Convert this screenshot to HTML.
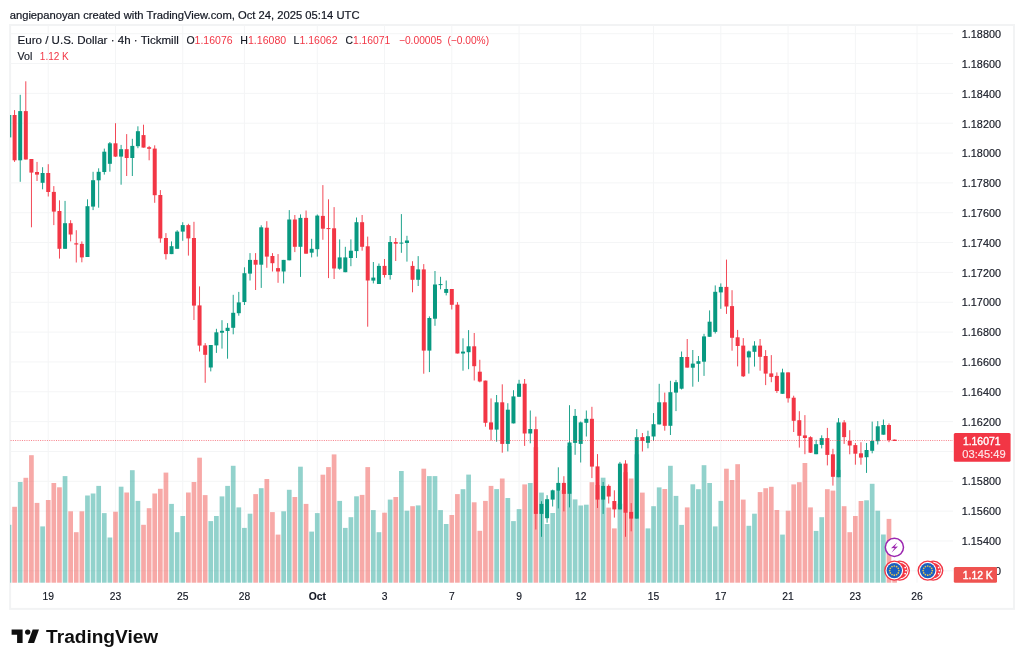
<!DOCTYPE html><html><head><meta charset="utf-8"><title>EURUSD 4h</title>
<style>html,body{margin:0;padding:0;background:#fff}body{width:1024px;height:665px;overflow:hidden}svg{display:block}text{font-family:"Liberation Sans",Arial,sans-serif}</style></head><body>
<svg width="1024" height="665" viewBox="0 0 1024 665">
<rect width="1024" height="665" fill="#fff"/>
<text x="9.7" y="18.5" font-size="11" fill="#131722" stroke="#131722" stroke-width="0.2" textLength="349.8" lengthAdjust="spacingAndGlyphs">angiepanoyan created with TradingView.com, Oct 24, 2025 05:14 UTC</text>
<rect x="10.1" y="25.0" width="1003.85" height="583.90" fill="#fff" stroke="#f2f3f4" stroke-width="2"/>
<g stroke="#f4f5f6" stroke-width="1">
<line x1="48.23" y1="25.6" x2="48.23" y2="582.7"/>
<line x1="115.49" y1="25.6" x2="115.49" y2="582.7"/>
<line x1="182.75" y1="25.6" x2="182.75" y2="582.7"/>
<line x1="244.41" y1="25.6" x2="244.41" y2="582.7"/>
<line x1="317.27" y1="25.6" x2="317.27" y2="582.7"/>
<line x1="384.53" y1="25.6" x2="384.53" y2="582.7"/>
<line x1="451.79" y1="25.6" x2="451.79" y2="582.7"/>
<line x1="519.05" y1="25.6" x2="519.05" y2="582.7"/>
<line x1="580.71" y1="25.6" x2="580.71" y2="582.7"/>
<line x1="653.57" y1="25.6" x2="653.57" y2="582.7"/>
<line x1="720.83" y1="25.6" x2="720.83" y2="582.7"/>
<line x1="788.09" y1="25.6" x2="788.09" y2="582.7"/>
<line x1="855.35" y1="25.6" x2="855.35" y2="582.7"/>
<line x1="917.01" y1="25.6" x2="917.01" y2="582.7"/>
<line x1="10.6" y1="33.70" x2="953.0" y2="33.70"/>
<line x1="10.6" y1="63.54" x2="953.0" y2="63.54"/>
<line x1="10.6" y1="93.38" x2="953.0" y2="93.38"/>
<line x1="10.6" y1="123.22" x2="953.0" y2="123.22"/>
<line x1="10.6" y1="153.06" x2="953.0" y2="153.06"/>
<line x1="10.6" y1="182.90" x2="953.0" y2="182.90"/>
<line x1="10.6" y1="212.74" x2="953.0" y2="212.74"/>
<line x1="10.6" y1="242.58" x2="953.0" y2="242.58"/>
<line x1="10.6" y1="272.42" x2="953.0" y2="272.42"/>
<line x1="10.6" y1="302.26" x2="953.0" y2="302.26"/>
<line x1="10.6" y1="332.10" x2="953.0" y2="332.10"/>
<line x1="10.6" y1="361.94" x2="953.0" y2="361.94"/>
<line x1="10.6" y1="391.78" x2="953.0" y2="391.78"/>
<line x1="10.6" y1="421.62" x2="953.0" y2="421.62"/>
<line x1="10.6" y1="451.46" x2="953.0" y2="451.46"/>
<line x1="10.6" y1="481.30" x2="953.0" y2="481.30"/>
<line x1="10.6" y1="511.14" x2="953.0" y2="511.14"/>
<line x1="10.6" y1="540.98" x2="953.0" y2="540.98"/>
<line x1="10.6" y1="570.82" x2="953.0" y2="570.82"/>
</g>
<g>
<rect x="10" y="524.8" width="1.34" height="57.90" fill="rgba(38,166,154,0.5)"/>
<rect x="12.25" y="506.8" width="4.7" height="75.9" fill="rgba(239,83,80,0.5)"/>
<rect x="17.85" y="482.0" width="4.7" height="100.7" fill="rgba(38,166,154,0.5)"/>
<rect x="23.46" y="477.8" width="4.7" height="104.9" fill="rgba(239,83,80,0.5)"/>
<rect x="29.06" y="455.2" width="4.7" height="127.5" fill="rgba(239,83,80,0.5)"/>
<rect x="34.67" y="502.9" width="4.7" height="79.8" fill="rgba(239,83,80,0.5)"/>
<rect x="40.27" y="526.4" width="4.7" height="56.3" fill="rgba(38,166,154,0.5)"/>
<rect x="45.88" y="500.0" width="4.7" height="82.7" fill="rgba(239,83,80,0.5)"/>
<rect x="51.48" y="483.0" width="4.7" height="99.7" fill="rgba(239,83,80,0.5)"/>
<rect x="57.09" y="487.3" width="4.7" height="95.4" fill="rgba(239,83,80,0.5)"/>
<rect x="62.70" y="476.1" width="4.7" height="106.6" fill="rgba(38,166,154,0.5)"/>
<rect x="68.30" y="511.3" width="4.7" height="71.4" fill="rgba(239,83,80,0.5)"/>
<rect x="73.91" y="532.2" width="4.7" height="50.5" fill="rgba(239,83,80,0.5)"/>
<rect x="79.51" y="511.3" width="4.7" height="71.4" fill="rgba(239,83,80,0.5)"/>
<rect x="85.12" y="495.5" width="4.7" height="87.2" fill="rgba(38,166,154,0.5)"/>
<rect x="90.72" y="493.5" width="4.7" height="89.2" fill="rgba(38,166,154,0.5)"/>
<rect x="96.33" y="485.9" width="4.7" height="96.8" fill="rgba(38,166,154,0.5)"/>
<rect x="101.93" y="513.1" width="4.7" height="69.6" fill="rgba(38,166,154,0.5)"/>
<rect x="107.54" y="537.5" width="4.7" height="45.2" fill="rgba(38,166,154,0.5)"/>
<rect x="113.14" y="511.7" width="4.7" height="71.0" fill="rgba(239,83,80,0.5)"/>
<rect x="118.75" y="486.7" width="4.7" height="96.0" fill="rgba(38,166,154,0.5)"/>
<rect x="124.35" y="492.5" width="4.7" height="90.2" fill="rgba(239,83,80,0.5)"/>
<rect x="129.96" y="470.2" width="4.7" height="112.5" fill="rgba(38,166,154,0.5)"/>
<rect x="135.56" y="500.9" width="4.7" height="81.8" fill="rgba(38,166,154,0.5)"/>
<rect x="141.17" y="524.8" width="4.7" height="57.9" fill="rgba(239,83,80,0.5)"/>
<rect x="146.77" y="508.2" width="4.7" height="74.5" fill="rgba(239,83,80,0.5)"/>
<rect x="152.38" y="493.5" width="4.7" height="89.2" fill="rgba(239,83,80,0.5)"/>
<rect x="157.98" y="488.8" width="4.7" height="93.9" fill="rgba(239,83,80,0.5)"/>
<rect x="163.59" y="472.6" width="4.7" height="110.1" fill="rgba(239,83,80,0.5)"/>
<rect x="169.19" y="503.9" width="4.7" height="78.8" fill="rgba(38,166,154,0.5)"/>
<rect x="174.80" y="532.2" width="4.7" height="50.5" fill="rgba(38,166,154,0.5)"/>
<rect x="180.40" y="516.0" width="4.7" height="66.7" fill="rgba(38,166,154,0.5)"/>
<rect x="186.01" y="492.5" width="4.7" height="90.2" fill="rgba(239,83,80,0.5)"/>
<rect x="191.61" y="482.0" width="4.7" height="100.7" fill="rgba(239,83,80,0.5)"/>
<rect x="197.22" y="457.7" width="4.7" height="125.0" fill="rgba(239,83,80,0.5)"/>
<rect x="202.82" y="495.1" width="4.7" height="87.6" fill="rgba(239,83,80,0.5)"/>
<rect x="208.43" y="521.1" width="4.7" height="61.6" fill="rgba(38,166,154,0.5)"/>
<rect x="214.03" y="516.0" width="4.7" height="66.7" fill="rgba(38,166,154,0.5)"/>
<rect x="219.64" y="496.4" width="4.7" height="86.3" fill="rgba(38,166,154,0.5)"/>
<rect x="225.24" y="485.9" width="4.7" height="96.8" fill="rgba(38,166,154,0.5)"/>
<rect x="230.85" y="465.8" width="4.7" height="116.9" fill="rgba(38,166,154,0.5)"/>
<rect x="236.45" y="507.4" width="4.7" height="75.3" fill="rgba(38,166,154,0.5)"/>
<rect x="242.06" y="527.9" width="4.7" height="54.8" fill="rgba(38,166,154,0.5)"/>
<rect x="247.66" y="513.7" width="4.7" height="69.0" fill="rgba(38,166,154,0.5)"/>
<rect x="253.27" y="494.1" width="4.7" height="88.6" fill="rgba(239,83,80,0.5)"/>
<rect x="258.87" y="488.2" width="4.7" height="94.5" fill="rgba(38,166,154,0.5)"/>
<rect x="264.48" y="479.0" width="4.7" height="103.7" fill="rgba(239,83,80,0.5)"/>
<rect x="270.08" y="512.1" width="4.7" height="70.6" fill="rgba(239,83,80,0.5)"/>
<rect x="275.69" y="534.6" width="4.7" height="48.1" fill="rgba(239,83,80,0.5)"/>
<rect x="281.29" y="511.3" width="4.7" height="71.4" fill="rgba(38,166,154,0.5)"/>
<rect x="286.90" y="489.8" width="4.7" height="92.9" fill="rgba(38,166,154,0.5)"/>
<rect x="292.50" y="497.0" width="4.7" height="85.7" fill="rgba(239,83,80,0.5)"/>
<rect x="298.11" y="466.7" width="4.7" height="116.0" fill="rgba(38,166,154,0.5)"/>
<rect x="303.71" y="503.9" width="4.7" height="78.8" fill="rgba(239,83,80,0.5)"/>
<rect x="309.31" y="531.6" width="4.7" height="51.1" fill="rgba(38,166,154,0.5)"/>
<rect x="314.92" y="513.1" width="4.7" height="69.6" fill="rgba(38,166,154,0.5)"/>
<rect x="320.53" y="474.7" width="4.7" height="108.0" fill="rgba(239,83,80,0.5)"/>
<rect x="326.13" y="467.1" width="4.7" height="115.6" fill="rgba(239,83,80,0.5)"/>
<rect x="331.74" y="454.4" width="4.7" height="128.3" fill="rgba(239,83,80,0.5)"/>
<rect x="337.34" y="500.9" width="4.7" height="81.8" fill="rgba(38,166,154,0.5)"/>
<rect x="342.95" y="527.9" width="4.7" height="54.8" fill="rgba(38,166,154,0.5)"/>
<rect x="348.55" y="517.2" width="4.7" height="65.5" fill="rgba(38,166,154,0.5)"/>
<rect x="354.16" y="496.3" width="4.7" height="86.4" fill="rgba(38,166,154,0.5)"/>
<rect x="359.76" y="494.9" width="4.7" height="87.8" fill="rgba(239,83,80,0.5)"/>
<rect x="365.37" y="467.1" width="4.7" height="115.6" fill="rgba(239,83,80,0.5)"/>
<rect x="370.97" y="510.1" width="4.7" height="72.6" fill="rgba(38,166,154,0.5)"/>
<rect x="376.58" y="532.2" width="4.7" height="50.5" fill="rgba(38,166,154,0.5)"/>
<rect x="382.18" y="512.7" width="4.7" height="70.0" fill="rgba(239,83,80,0.5)"/>
<rect x="387.79" y="499.6" width="4.7" height="83.1" fill="rgba(38,166,154,0.5)"/>
<rect x="393.39" y="497.0" width="4.7" height="85.7" fill="rgba(239,83,80,0.5)"/>
<rect x="399.00" y="471.0" width="4.7" height="111.7" fill="rgba(38,166,154,0.5)"/>
<rect x="404.60" y="510.7" width="4.7" height="72.0" fill="rgba(38,166,154,0.5)"/>
<rect x="410.21" y="506.2" width="4.7" height="76.5" fill="rgba(239,83,80,0.5)"/>
<rect x="415.81" y="505.4" width="4.7" height="77.3" fill="rgba(38,166,154,0.5)"/>
<rect x="421.42" y="468.7" width="4.7" height="114.0" fill="rgba(239,83,80,0.5)"/>
<rect x="427.02" y="476.1" width="4.7" height="106.6" fill="rgba(38,166,154,0.5)"/>
<rect x="432.63" y="476.1" width="4.7" height="106.6" fill="rgba(38,166,154,0.5)"/>
<rect x="438.23" y="510.1" width="4.7" height="72.6" fill="rgba(38,166,154,0.5)"/>
<rect x="443.84" y="524.0" width="4.7" height="58.7" fill="rgba(38,166,154,0.5)"/>
<rect x="449.44" y="515.0" width="4.7" height="67.7" fill="rgba(239,83,80,0.5)"/>
<rect x="455.05" y="494.1" width="4.7" height="88.6" fill="rgba(239,83,80,0.5)"/>
<rect x="460.65" y="489.2" width="4.7" height="93.5" fill="rgba(38,166,154,0.5)"/>
<rect x="466.26" y="474.6" width="4.7" height="108.1" fill="rgba(38,166,154,0.5)"/>
<rect x="471.86" y="502.3" width="4.7" height="80.4" fill="rgba(239,83,80,0.5)"/>
<rect x="477.47" y="530.8" width="4.7" height="51.9" fill="rgba(239,83,80,0.5)"/>
<rect x="483.07" y="500.9" width="4.7" height="81.8" fill="rgba(239,83,80,0.5)"/>
<rect x="488.68" y="485.9" width="4.7" height="96.8" fill="rgba(239,83,80,0.5)"/>
<rect x="494.28" y="489.1" width="4.7" height="93.6" fill="rgba(38,166,154,0.5)"/>
<rect x="499.89" y="478.5" width="4.7" height="104.2" fill="rgba(239,83,80,0.5)"/>
<rect x="505.49" y="498.0" width="4.7" height="84.7" fill="rgba(38,166,154,0.5)"/>
<rect x="511.10" y="521.1" width="4.7" height="61.6" fill="rgba(38,166,154,0.5)"/>
<rect x="516.70" y="509.1" width="4.7" height="73.6" fill="rgba(38,166,154,0.5)"/>
<rect x="522.31" y="484.4" width="4.7" height="98.3" fill="rgba(239,83,80,0.5)"/>
<rect x="527.91" y="483.0" width="4.7" height="99.7" fill="rgba(38,166,154,0.5)"/>
<rect x="533.51" y="447.2" width="4.7" height="135.5" fill="rgba(239,83,80,0.5)"/>
<rect x="539.12" y="492.6" width="4.7" height="90.1" fill="rgba(38,166,154,0.5)"/>
<rect x="544.73" y="524.0" width="4.7" height="58.7" fill="rgba(38,166,154,0.5)"/>
<rect x="550.33" y="513.0" width="4.7" height="69.7" fill="rgba(38,166,154,0.5)"/>
<rect x="555.94" y="491.0" width="4.7" height="91.7" fill="rgba(38,166,154,0.5)"/>
<rect x="561.54" y="490.0" width="4.7" height="92.7" fill="rgba(239,83,80,0.5)"/>
<rect x="567.15" y="446.0" width="4.7" height="136.7" fill="rgba(38,166,154,0.5)"/>
<rect x="572.75" y="499.4" width="4.7" height="83.3" fill="rgba(38,166,154,0.5)"/>
<rect x="578.36" y="505.5" width="4.7" height="77.2" fill="rgba(38,166,154,0.5)"/>
<rect x="583.96" y="504.7" width="4.7" height="78.0" fill="rgba(38,166,154,0.5)"/>
<rect x="589.57" y="482.2" width="4.7" height="100.5" fill="rgba(239,83,80,0.5)"/>
<rect x="595.17" y="485.0" width="4.7" height="97.7" fill="rgba(239,83,80,0.5)"/>
<rect x="600.78" y="477.7" width="4.7" height="105.0" fill="rgba(38,166,154,0.5)"/>
<rect x="606.38" y="507.6" width="4.7" height="75.1" fill="rgba(239,83,80,0.5)"/>
<rect x="611.99" y="528.4" width="4.7" height="54.3" fill="rgba(239,83,80,0.5)"/>
<rect x="617.59" y="503.7" width="4.7" height="79.0" fill="rgba(38,166,154,0.5)"/>
<rect x="623.20" y="472.2" width="4.7" height="110.5" fill="rgba(239,83,80,0.5)"/>
<rect x="628.80" y="478.5" width="4.7" height="104.2" fill="rgba(239,83,80,0.5)"/>
<rect x="634.41" y="454.3" width="4.7" height="128.4" fill="rgba(38,166,154,0.5)"/>
<rect x="640.01" y="492.6" width="4.7" height="90.1" fill="rgba(239,83,80,0.5)"/>
<rect x="645.62" y="528.4" width="4.7" height="54.3" fill="rgba(38,166,154,0.5)"/>
<rect x="651.22" y="506.2" width="4.7" height="76.5" fill="rgba(38,166,154,0.5)"/>
<rect x="656.83" y="487.4" width="4.7" height="95.3" fill="rgba(38,166,154,0.5)"/>
<rect x="662.43" y="489.0" width="4.7" height="93.7" fill="rgba(239,83,80,0.5)"/>
<rect x="668.04" y="465.8" width="4.7" height="116.9" fill="rgba(38,166,154,0.5)"/>
<rect x="673.64" y="495.9" width="4.7" height="86.8" fill="rgba(38,166,154,0.5)"/>
<rect x="679.25" y="524.9" width="4.7" height="57.8" fill="rgba(38,166,154,0.5)"/>
<rect x="684.85" y="507.4" width="4.7" height="75.3" fill="rgba(239,83,80,0.5)"/>
<rect x="690.46" y="484.3" width="4.7" height="98.4" fill="rgba(38,166,154,0.5)"/>
<rect x="696.06" y="489.2" width="4.7" height="93.5" fill="rgba(38,166,154,0.5)"/>
<rect x="701.67" y="465.2" width="4.7" height="117.5" fill="rgba(38,166,154,0.5)"/>
<rect x="707.27" y="483.0" width="4.7" height="99.7" fill="rgba(38,166,154,0.5)"/>
<rect x="712.88" y="526.4" width="4.7" height="56.3" fill="rgba(38,166,154,0.5)"/>
<rect x="718.48" y="500.9" width="4.7" height="81.8" fill="rgba(38,166,154,0.5)"/>
<rect x="724.09" y="468.7" width="4.7" height="114.0" fill="rgba(239,83,80,0.5)"/>
<rect x="729.69" y="480.0" width="4.7" height="102.7" fill="rgba(239,83,80,0.5)"/>
<rect x="735.30" y="464.2" width="4.7" height="118.5" fill="rgba(239,83,80,0.5)"/>
<rect x="740.90" y="499.6" width="4.7" height="83.1" fill="rgba(239,83,80,0.5)"/>
<rect x="746.51" y="525.8" width="4.7" height="56.9" fill="rgba(38,166,154,0.5)"/>
<rect x="752.11" y="513.7" width="4.7" height="69.0" fill="rgba(38,166,154,0.5)"/>
<rect x="757.72" y="492.1" width="4.7" height="90.6" fill="rgba(239,83,80,0.5)"/>
<rect x="763.32" y="488.2" width="4.7" height="94.5" fill="rgba(239,83,80,0.5)"/>
<rect x="768.93" y="486.8" width="4.7" height="95.9" fill="rgba(239,83,80,0.5)"/>
<rect x="774.53" y="510.0" width="4.7" height="72.7" fill="rgba(239,83,80,0.5)"/>
<rect x="780.14" y="534.6" width="4.7" height="48.1" fill="rgba(38,166,154,0.5)"/>
<rect x="785.74" y="510.7" width="4.7" height="72.0" fill="rgba(239,83,80,0.5)"/>
<rect x="791.35" y="484.4" width="4.7" height="98.3" fill="rgba(239,83,80,0.5)"/>
<rect x="796.95" y="482.2" width="4.7" height="100.5" fill="rgba(239,83,80,0.5)"/>
<rect x="802.56" y="463.0" width="4.7" height="119.7" fill="rgba(239,83,80,0.5)"/>
<rect x="808.16" y="507.4" width="4.7" height="75.3" fill="rgba(239,83,80,0.5)"/>
<rect x="813.77" y="530.9" width="4.7" height="51.8" fill="rgba(38,166,154,0.5)"/>
<rect x="819.37" y="517.2" width="4.7" height="65.5" fill="rgba(38,166,154,0.5)"/>
<rect x="824.98" y="489.2" width="4.7" height="93.5" fill="rgba(239,83,80,0.5)"/>
<rect x="830.58" y="490.6" width="4.7" height="92.1" fill="rgba(239,83,80,0.5)"/>
<rect x="836.19" y="469.9" width="4.7" height="112.8" fill="rgba(38,166,154,0.5)"/>
<rect x="841.79" y="506.2" width="4.7" height="76.5" fill="rgba(239,83,80,0.5)"/>
<rect x="847.40" y="532.2" width="4.7" height="50.5" fill="rgba(239,83,80,0.5)"/>
<rect x="853.00" y="516.0" width="4.7" height="66.7" fill="rgba(239,83,80,0.5)"/>
<rect x="858.61" y="501.0" width="4.7" height="81.7" fill="rgba(239,83,80,0.5)"/>
<rect x="864.21" y="500.3" width="4.7" height="82.4" fill="rgba(38,166,154,0.5)"/>
<rect x="869.82" y="483.8" width="4.7" height="98.9" fill="rgba(38,166,154,0.5)"/>
<rect x="875.42" y="510.7" width="4.7" height="72.0" fill="rgba(38,166,154,0.5)"/>
<rect x="881.03" y="534.5" width="4.7" height="48.2" fill="rgba(38,166,154,0.5)"/>
<rect x="886.63" y="518.9" width="4.7" height="63.8" fill="rgba(239,83,80,0.5)"/>
<rect x="892.24" y="575.0" width="4.7" height="7.7" fill="rgba(239,83,80,0.5)"/>
</g>
<g>
<rect x="10" y="115" width="1.3" height="22.4" fill="#089981" fill-opacity="0.9"/>
<rect x="14.15" y="110.1" width="0.9" height="51.8" fill="#f23645"/>
<rect x="12.60" y="115.0" width="4.0" height="45.3" fill="#f23645"/>
<rect x="19.75" y="94.8" width="0.9" height="87.0" fill="#089981"/>
<rect x="18.20" y="111.1" width="4.0" height="49.2" fill="#089981"/>
<rect x="25.36" y="81.3" width="0.9" height="78.2" fill="#f23645"/>
<rect x="23.81" y="111.1" width="4.0" height="48.4" fill="#f23645"/>
<rect x="30.96" y="159.0" width="0.9" height="68.3" fill="#f23645"/>
<rect x="29.41" y="159.0" width="4.0" height="13.6" fill="#f23645"/>
<rect x="36.57" y="161.9" width="0.9" height="19.1" fill="#f23645"/>
<rect x="35.02" y="172.0" width="4.0" height="2.6" fill="#f23645"/>
<rect x="42.17" y="167.2" width="0.9" height="22.1" fill="#089981"/>
<rect x="40.62" y="173.0" width="4.0" height="9.8" fill="#089981"/>
<rect x="47.78" y="164.2" width="0.9" height="32.3" fill="#f23645"/>
<rect x="46.23" y="173.0" width="4.0" height="19.0" fill="#f23645"/>
<rect x="53.38" y="186.1" width="0.9" height="39.0" fill="#f23645"/>
<rect x="51.84" y="191.9" width="4.0" height="19.7" fill="#f23645"/>
<rect x="58.99" y="200.3" width="0.9" height="58.3" fill="#f23645"/>
<rect x="57.44" y="211.0" width="4.0" height="37.8" fill="#f23645"/>
<rect x="64.59" y="200.9" width="0.9" height="47.9" fill="#089981"/>
<rect x="63.05" y="223.2" width="4.0" height="25.6" fill="#089981"/>
<rect x="70.20" y="220.2" width="0.9" height="21.2" fill="#f23645"/>
<rect x="68.65" y="223.2" width="4.0" height="11.3" fill="#f23645"/>
<rect x="75.80" y="230.2" width="0.9" height="32.3" fill="#f23645"/>
<rect x="74.25" y="243.3" width="4.0" height="1.2" fill="#f23645"/>
<rect x="81.41" y="241.4" width="0.9" height="20.9" fill="#f23645"/>
<rect x="79.86" y="243.9" width="4.0" height="13.5" fill="#f23645"/>
<rect x="87.02" y="199.3" width="0.9" height="57.7" fill="#089981"/>
<rect x="85.47" y="206.2" width="4.0" height="50.8" fill="#089981"/>
<rect x="92.62" y="171.8" width="0.9" height="38.3" fill="#089981"/>
<rect x="91.07" y="180.2" width="4.0" height="26.4" fill="#089981"/>
<rect x="98.22" y="168.3" width="0.9" height="39.4" fill="#089981"/>
<rect x="96.67" y="171.8" width="4.0" height="8.5" fill="#089981"/>
<rect x="103.83" y="148.6" width="0.9" height="26.0" fill="#089981"/>
<rect x="102.28" y="151.7" width="4.0" height="20.3" fill="#089981"/>
<rect x="109.44" y="142.0" width="0.9" height="29.7" fill="#089981"/>
<rect x="107.89" y="143.3" width="4.0" height="20.5" fill="#089981"/>
<rect x="115.04" y="123.2" width="0.9" height="33.8" fill="#f23645"/>
<rect x="113.49" y="143.3" width="4.0" height="13.3" fill="#f23645"/>
<rect x="120.64" y="144.9" width="0.9" height="39.8" fill="#089981"/>
<rect x="119.09" y="149.2" width="4.0" height="7.4" fill="#089981"/>
<rect x="126.25" y="134.1" width="0.9" height="41.9" fill="#f23645"/>
<rect x="124.70" y="149.2" width="4.0" height="8.8" fill="#f23645"/>
<rect x="131.86" y="138.8" width="0.9" height="37.2" fill="#089981"/>
<rect x="130.31" y="145.9" width="4.0" height="12.1" fill="#089981"/>
<rect x="137.46" y="126.3" width="0.9" height="21.9" fill="#089981"/>
<rect x="135.91" y="131.2" width="4.0" height="15.0" fill="#089981"/>
<rect x="143.07" y="124.7" width="0.9" height="22.9" fill="#f23645"/>
<rect x="141.52" y="135.1" width="4.0" height="12.5" fill="#f23645"/>
<rect x="148.67" y="145.9" width="0.9" height="14.4" fill="#f23645"/>
<rect x="147.12" y="147.2" width="4.0" height="1.6" fill="#f23645"/>
<rect x="154.28" y="145.3" width="0.9" height="57.5" fill="#f23645"/>
<rect x="152.72" y="148.6" width="4.0" height="46.6" fill="#f23645"/>
<rect x="159.88" y="190.1" width="0.9" height="52.6" fill="#f23645"/>
<rect x="158.33" y="195.0" width="4.0" height="43.4" fill="#f23645"/>
<rect x="165.49" y="233.1" width="0.9" height="26.4" fill="#f23645"/>
<rect x="163.94" y="238.0" width="4.0" height="16.1" fill="#f23645"/>
<rect x="171.09" y="241.4" width="0.9" height="12.7" fill="#089981"/>
<rect x="169.54" y="246.2" width="4.0" height="7.9" fill="#089981"/>
<rect x="176.70" y="230.2" width="0.9" height="18.6" fill="#089981"/>
<rect x="175.15" y="231.6" width="4.0" height="17.2" fill="#089981"/>
<rect x="182.30" y="222.2" width="0.9" height="18.6" fill="#089981"/>
<rect x="180.75" y="225.1" width="4.0" height="6.5" fill="#089981"/>
<rect x="187.91" y="223.8" width="0.9" height="31.8" fill="#f23645"/>
<rect x="186.36" y="225.1" width="4.0" height="13.3" fill="#f23645"/>
<rect x="193.51" y="221.8" width="0.9" height="98.2" fill="#f23645"/>
<rect x="191.96" y="238.0" width="4.0" height="67.6" fill="#f23645"/>
<rect x="199.12" y="286.4" width="0.9" height="65.1" fill="#f23645"/>
<rect x="197.56" y="305.4" width="4.0" height="40.2" fill="#f23645"/>
<rect x="204.72" y="343.1" width="0.9" height="39.7" fill="#f23645"/>
<rect x="203.17" y="345.4" width="4.0" height="9.4" fill="#f23645"/>
<rect x="210.33" y="345.0" width="0.9" height="26.4" fill="#089981"/>
<rect x="208.78" y="345.0" width="4.0" height="22.5" fill="#089981"/>
<rect x="215.93" y="328.8" width="0.9" height="24.1" fill="#089981"/>
<rect x="214.38" y="332.3" width="4.0" height="13.1" fill="#089981"/>
<rect x="221.54" y="320.2" width="0.9" height="28.4" fill="#089981"/>
<rect x="219.99" y="330.8" width="4.0" height="1.9" fill="#089981"/>
<rect x="227.14" y="323.1" width="0.9" height="35.6" fill="#089981"/>
<rect x="225.59" y="327.8" width="4.0" height="3.2" fill="#089981"/>
<rect x="232.75" y="294.8" width="0.9" height="39.5" fill="#089981"/>
<rect x="231.20" y="312.8" width="4.0" height="15.0" fill="#089981"/>
<rect x="238.35" y="291.9" width="0.9" height="23.8" fill="#089981"/>
<rect x="236.80" y="302.4" width="4.0" height="10.8" fill="#089981"/>
<rect x="243.96" y="267.3" width="0.9" height="37.7" fill="#089981"/>
<rect x="242.41" y="273.2" width="4.0" height="28.8" fill="#089981"/>
<rect x="249.56" y="253.1" width="0.9" height="27.4" fill="#089981"/>
<rect x="248.01" y="259.9" width="4.0" height="13.7" fill="#089981"/>
<rect x="255.17" y="253.1" width="0.9" height="36.9" fill="#f23645"/>
<rect x="253.62" y="259.9" width="4.0" height="4.8" fill="#f23645"/>
<rect x="260.77" y="225.3" width="0.9" height="62.6" fill="#089981"/>
<rect x="259.22" y="227.3" width="4.0" height="37.4" fill="#089981"/>
<rect x="266.38" y="221.2" width="0.9" height="46.6" fill="#f23645"/>
<rect x="264.83" y="227.7" width="4.0" height="28.9" fill="#f23645"/>
<rect x="271.98" y="253.1" width="0.9" height="18.4" fill="#f23645"/>
<rect x="270.43" y="256.0" width="4.0" height="7.2" fill="#f23645"/>
<rect x="277.59" y="254.1" width="0.9" height="28.7" fill="#f23645"/>
<rect x="276.04" y="268.1" width="4.0" height="3.4" fill="#f23645"/>
<rect x="283.19" y="259.9" width="0.9" height="23.5" fill="#089981"/>
<rect x="281.64" y="259.9" width="4.0" height="11.6" fill="#089981"/>
<rect x="288.80" y="210.1" width="0.9" height="50.2" fill="#089981"/>
<rect x="287.25" y="219.5" width="4.0" height="40.8" fill="#089981"/>
<rect x="294.40" y="215.0" width="0.9" height="37.1" fill="#f23645"/>
<rect x="292.85" y="219.5" width="4.0" height="27.3" fill="#f23645"/>
<rect x="300.01" y="214.4" width="0.9" height="62.5" fill="#089981"/>
<rect x="298.46" y="217.9" width="4.0" height="28.9" fill="#089981"/>
<rect x="305.61" y="210.5" width="0.9" height="43.2" fill="#f23645"/>
<rect x="304.06" y="217.9" width="4.0" height="35.8" fill="#f23645"/>
<rect x="311.22" y="238.8" width="0.9" height="18.6" fill="#089981"/>
<rect x="309.67" y="248.8" width="4.0" height="3.9" fill="#089981"/>
<rect x="316.82" y="214.5" width="0.9" height="42.1" fill="#089981"/>
<rect x="315.27" y="215.6" width="4.0" height="33.6" fill="#089981"/>
<rect x="322.43" y="185.1" width="0.9" height="54.7" fill="#f23645"/>
<rect x="320.88" y="215.9" width="4.0" height="12.8" fill="#f23645"/>
<rect x="328.03" y="199.3" width="0.9" height="78.8" fill="#f23645"/>
<rect x="326.48" y="228.1" width="4.0" height="1.0" fill="#f23645"/>
<rect x="333.64" y="207.1" width="0.9" height="71.9" fill="#f23645"/>
<rect x="332.09" y="228.3" width="4.0" height="40.2" fill="#f23645"/>
<rect x="339.24" y="239.4" width="0.9" height="30.3" fill="#089981"/>
<rect x="337.69" y="257.4" width="4.0" height="11.3" fill="#089981"/>
<rect x="344.85" y="246.8" width="0.9" height="25.4" fill="#089981"/>
<rect x="343.30" y="257.4" width="4.0" height="14.8" fill="#089981"/>
<rect x="350.45" y="239.4" width="0.9" height="26.8" fill="#089981"/>
<rect x="348.90" y="250.7" width="4.0" height="7.3" fill="#089981"/>
<rect x="356.06" y="217.5" width="0.9" height="40.5" fill="#089981"/>
<rect x="354.51" y="222.2" width="4.0" height="28.9" fill="#089981"/>
<rect x="361.66" y="215.0" width="0.9" height="35.7" fill="#f23645"/>
<rect x="360.11" y="222.2" width="4.0" height="24.6" fill="#f23645"/>
<rect x="367.27" y="236.6" width="0.9" height="90.1" fill="#f23645"/>
<rect x="365.72" y="246.3" width="4.0" height="34.2" fill="#f23645"/>
<rect x="372.87" y="262.0" width="0.9" height="21.4" fill="#089981"/>
<rect x="371.32" y="277.6" width="4.0" height="3.0" fill="#089981"/>
<rect x="378.48" y="263.5" width="0.9" height="20.5" fill="#089981"/>
<rect x="376.93" y="265.9" width="4.0" height="18.1" fill="#089981"/>
<rect x="384.08" y="259.0" width="0.9" height="18.5" fill="#f23645"/>
<rect x="382.53" y="265.9" width="4.0" height="9.1" fill="#f23645"/>
<rect x="389.69" y="236.0" width="0.9" height="43.6" fill="#089981"/>
<rect x="388.14" y="242.0" width="4.0" height="33.0" fill="#089981"/>
<rect x="395.29" y="238.0" width="0.9" height="23.0" fill="#f23645"/>
<rect x="393.74" y="242.0" width="4.0" height="1.7" fill="#f23645"/>
<rect x="400.90" y="214.1" width="0.9" height="38.7" fill="#089981"/>
<rect x="399.35" y="242.6" width="4.0" height="1.0" fill="#089981"/>
<rect x="406.50" y="235.8" width="0.9" height="25.8" fill="#089981"/>
<rect x="404.95" y="240.5" width="4.0" height="2.5" fill="#089981"/>
<rect x="412.11" y="261.2" width="0.9" height="31.1" fill="#f23645"/>
<rect x="410.56" y="265.9" width="4.0" height="13.9" fill="#f23645"/>
<rect x="417.71" y="256.1" width="0.9" height="29.9" fill="#089981"/>
<rect x="416.16" y="269.4" width="4.0" height="10.4" fill="#089981"/>
<rect x="423.32" y="264.1" width="0.9" height="109.6" fill="#f23645"/>
<rect x="421.77" y="269.4" width="4.0" height="81.2" fill="#f23645"/>
<rect x="428.92" y="316.4" width="0.9" height="55.7" fill="#089981"/>
<rect x="427.37" y="318.0" width="4.0" height="32.6" fill="#089981"/>
<rect x="434.53" y="271.0" width="0.9" height="54.8" fill="#089981"/>
<rect x="432.98" y="284.5" width="4.0" height="34.2" fill="#089981"/>
<rect x="440.13" y="276.8" width="0.9" height="12.5" fill="#089981"/>
<rect x="438.58" y="284.1" width="4.0" height="1.0" fill="#089981"/>
<rect x="445.74" y="280.5" width="0.9" height="14.9" fill="#089981"/>
<rect x="444.19" y="289.0" width="4.0" height="3.9" fill="#089981"/>
<rect x="451.34" y="289.0" width="0.9" height="20.5" fill="#f23645"/>
<rect x="449.79" y="289.0" width="4.0" height="15.8" fill="#f23645"/>
<rect x="456.95" y="302.1" width="0.9" height="51.4" fill="#f23645"/>
<rect x="455.40" y="304.7" width="4.0" height="48.8" fill="#f23645"/>
<rect x="462.55" y="338.3" width="0.9" height="32.4" fill="#089981"/>
<rect x="461.00" y="351.6" width="4.0" height="1.9" fill="#089981"/>
<rect x="468.16" y="330.1" width="0.9" height="39.1" fill="#089981"/>
<rect x="466.61" y="346.3" width="4.0" height="5.9" fill="#089981"/>
<rect x="473.76" y="333.0" width="0.9" height="47.5" fill="#f23645"/>
<rect x="472.21" y="346.3" width="4.0" height="19.9" fill="#f23645"/>
<rect x="479.37" y="359.8" width="0.9" height="22.5" fill="#f23645"/>
<rect x="477.82" y="371.7" width="4.0" height="9.8" fill="#f23645"/>
<rect x="484.97" y="380.6" width="0.9" height="46.1" fill="#f23645"/>
<rect x="483.42" y="380.6" width="4.0" height="42.2" fill="#f23645"/>
<rect x="490.58" y="398.4" width="0.9" height="42.0" fill="#f23645"/>
<rect x="489.03" y="422.4" width="4.0" height="7.2" fill="#f23645"/>
<rect x="496.18" y="395.0" width="0.9" height="46.7" fill="#089981"/>
<rect x="494.63" y="402.3" width="4.0" height="27.3" fill="#089981"/>
<rect x="501.79" y="384.3" width="0.9" height="68.4" fill="#f23645"/>
<rect x="500.24" y="402.3" width="4.0" height="41.6" fill="#f23645"/>
<rect x="507.39" y="403.2" width="0.9" height="48.2" fill="#089981"/>
<rect x="505.84" y="409.7" width="4.0" height="34.2" fill="#089981"/>
<rect x="513.00" y="390.2" width="0.9" height="33.2" fill="#089981"/>
<rect x="511.45" y="396.4" width="4.0" height="27.0" fill="#089981"/>
<rect x="518.60" y="379.8" width="0.9" height="17.0" fill="#089981"/>
<rect x="517.05" y="383.7" width="4.0" height="13.1" fill="#089981"/>
<rect x="524.21" y="379.0" width="0.9" height="66.9" fill="#f23645"/>
<rect x="522.66" y="383.7" width="4.0" height="49.8" fill="#f23645"/>
<rect x="529.81" y="410.5" width="0.9" height="32.8" fill="#089981"/>
<rect x="528.26" y="429.0" width="4.0" height="4.5" fill="#089981"/>
<rect x="535.41" y="416.6" width="0.9" height="112.9" fill="#f23645"/>
<rect x="533.87" y="429.2" width="4.0" height="84.7" fill="#f23645"/>
<rect x="541.02" y="501.2" width="0.9" height="35.6" fill="#089981"/>
<rect x="539.47" y="503.9" width="4.0" height="10.0" fill="#089981"/>
<rect x="546.62" y="495.2" width="0.9" height="27.5" fill="#089981"/>
<rect x="545.08" y="499.2" width="4.0" height="19.0" fill="#089981"/>
<rect x="552.23" y="489.6" width="0.9" height="16.9" fill="#089981"/>
<rect x="550.68" y="490.3" width="4.0" height="9.3" fill="#089981"/>
<rect x="557.84" y="467.3" width="0.9" height="41.1" fill="#089981"/>
<rect x="556.29" y="482.9" width="4.0" height="7.9" fill="#089981"/>
<rect x="563.44" y="476.2" width="0.9" height="35.2" fill="#f23645"/>
<rect x="561.89" y="482.9" width="4.0" height="11.0" fill="#f23645"/>
<rect x="569.05" y="405.2" width="0.9" height="102.2" fill="#089981"/>
<rect x="567.50" y="442.5" width="4.0" height="51.3" fill="#089981"/>
<rect x="574.65" y="409.0" width="0.9" height="45.8" fill="#089981"/>
<rect x="573.10" y="415.9" width="4.0" height="27.0" fill="#089981"/>
<rect x="580.25" y="421.5" width="0.9" height="41.0" fill="#089981"/>
<rect x="578.71" y="422.4" width="4.0" height="21.5" fill="#089981"/>
<rect x="585.86" y="410.5" width="0.9" height="26.0" fill="#089981"/>
<rect x="584.31" y="418.8" width="4.0" height="4.0" fill="#089981"/>
<rect x="591.47" y="406.8" width="0.9" height="71.3" fill="#f23645"/>
<rect x="589.92" y="418.8" width="4.0" height="47.8" fill="#f23645"/>
<rect x="597.07" y="454.1" width="0.9" height="53.9" fill="#f23645"/>
<rect x="595.52" y="466.4" width="4.0" height="33.2" fill="#f23645"/>
<rect x="602.68" y="482.0" width="0.9" height="31.9" fill="#089981"/>
<rect x="601.13" y="485.9" width="4.0" height="13.7" fill="#089981"/>
<rect x="608.28" y="484.5" width="0.9" height="19.0" fill="#f23645"/>
<rect x="606.73" y="485.9" width="4.0" height="10.6" fill="#f23645"/>
<rect x="613.88" y="490.3" width="0.9" height="27.3" fill="#f23645"/>
<rect x="612.34" y="501.0" width="4.0" height="8.4" fill="#f23645"/>
<rect x="619.49" y="461.9" width="0.9" height="47.5" fill="#089981"/>
<rect x="617.94" y="463.6" width="4.0" height="45.8" fill="#089981"/>
<rect x="625.10" y="460.2" width="0.9" height="76.6" fill="#f23645"/>
<rect x="623.55" y="463.6" width="4.0" height="49.1" fill="#f23645"/>
<rect x="630.70" y="503.1" width="0.9" height="28.2" fill="#f23645"/>
<rect x="629.15" y="511.9" width="4.0" height="6.7" fill="#f23645"/>
<rect x="636.31" y="429.1" width="0.9" height="89.5" fill="#089981"/>
<rect x="634.76" y="437.2" width="4.0" height="81.4" fill="#089981"/>
<rect x="641.91" y="433.0" width="0.9" height="18.5" fill="#f23645"/>
<rect x="640.36" y="437.1" width="4.0" height="3.8" fill="#f23645"/>
<rect x="647.51" y="430.7" width="0.9" height="17.6" fill="#089981"/>
<rect x="645.97" y="436.2" width="4.0" height="6.6" fill="#089981"/>
<rect x="653.12" y="413.1" width="0.9" height="27.9" fill="#089981"/>
<rect x="651.57" y="424.2" width="4.0" height="12.3" fill="#089981"/>
<rect x="658.73" y="383.8" width="0.9" height="40.6" fill="#089981"/>
<rect x="657.18" y="402.3" width="4.0" height="22.1" fill="#089981"/>
<rect x="664.33" y="392.6" width="0.9" height="38.1" fill="#f23645"/>
<rect x="662.78" y="402.3" width="4.0" height="23.5" fill="#f23645"/>
<rect x="669.94" y="380.8" width="0.9" height="54.2" fill="#089981"/>
<rect x="668.39" y="392.2" width="4.0" height="33.6" fill="#089981"/>
<rect x="675.54" y="379.9" width="0.9" height="31.2" fill="#089981"/>
<rect x="673.99" y="382.2" width="4.0" height="10.4" fill="#089981"/>
<rect x="681.14" y="351.5" width="0.9" height="38.0" fill="#089981"/>
<rect x="679.60" y="357.0" width="4.0" height="31.7" fill="#089981"/>
<rect x="686.75" y="339.0" width="0.9" height="28.6" fill="#f23645"/>
<rect x="685.20" y="357.0" width="4.0" height="10.6" fill="#f23645"/>
<rect x="692.36" y="350.0" width="0.9" height="36.7" fill="#089981"/>
<rect x="690.81" y="363.6" width="4.0" height="4.1" fill="#089981"/>
<rect x="697.96" y="356.0" width="0.9" height="25.8" fill="#089981"/>
<rect x="696.41" y="361.2" width="4.0" height="2.6" fill="#089981"/>
<rect x="703.57" y="333.8" width="0.9" height="42.1" fill="#089981"/>
<rect x="702.02" y="336.4" width="4.0" height="25.3" fill="#089981"/>
<rect x="709.17" y="310.4" width="0.9" height="26.4" fill="#089981"/>
<rect x="707.62" y="321.7" width="4.0" height="15.1" fill="#089981"/>
<rect x="714.77" y="285.4" width="0.9" height="48.1" fill="#089981"/>
<rect x="713.23" y="291.8" width="4.0" height="40.1" fill="#089981"/>
<rect x="720.38" y="283.4" width="0.9" height="25.4" fill="#089981"/>
<rect x="718.83" y="286.9" width="4.0" height="5.5" fill="#089981"/>
<rect x="725.99" y="259.6" width="0.9" height="54.3" fill="#f23645"/>
<rect x="724.44" y="286.9" width="4.0" height="19.6" fill="#f23645"/>
<rect x="731.59" y="290.2" width="0.9" height="60.5" fill="#f23645"/>
<rect x="730.04" y="306.1" width="4.0" height="31.7" fill="#f23645"/>
<rect x="737.20" y="329.9" width="0.9" height="36.5" fill="#f23645"/>
<rect x="735.65" y="337.3" width="4.0" height="8.7" fill="#f23645"/>
<rect x="742.80" y="338.1" width="0.9" height="38.9" fill="#f23645"/>
<rect x="741.25" y="345.6" width="4.0" height="30.7" fill="#f23645"/>
<rect x="748.41" y="350.5" width="0.9" height="23.1" fill="#089981"/>
<rect x="746.86" y="351.4" width="4.0" height="6.0" fill="#089981"/>
<rect x="754.01" y="341.2" width="0.9" height="25.4" fill="#089981"/>
<rect x="752.46" y="345.6" width="4.0" height="6.2" fill="#089981"/>
<rect x="759.62" y="339.0" width="0.9" height="31.7" fill="#f23645"/>
<rect x="758.07" y="345.6" width="4.0" height="11.2" fill="#f23645"/>
<rect x="765.22" y="350.1" width="0.9" height="35.0" fill="#f23645"/>
<rect x="763.67" y="356.0" width="4.0" height="17.6" fill="#f23645"/>
<rect x="770.83" y="355.1" width="0.9" height="27.1" fill="#f23645"/>
<rect x="769.28" y="373.4" width="4.0" height="3.5" fill="#f23645"/>
<rect x="776.43" y="372.4" width="0.9" height="20.5" fill="#f23645"/>
<rect x="774.88" y="375.9" width="4.0" height="15.1" fill="#f23645"/>
<rect x="782.04" y="368.7" width="0.9" height="25.1" fill="#089981"/>
<rect x="780.49" y="372.4" width="4.0" height="21.4" fill="#089981"/>
<rect x="787.64" y="372.4" width="0.9" height="30.2" fill="#f23645"/>
<rect x="786.09" y="372.4" width="4.0" height="25.9" fill="#f23645"/>
<rect x="793.25" y="395.7" width="0.9" height="36.3" fill="#f23645"/>
<rect x="791.70" y="397.7" width="4.0" height="23.1" fill="#f23645"/>
<rect x="798.85" y="411.2" width="0.9" height="36.4" fill="#f23645"/>
<rect x="797.30" y="420.2" width="4.0" height="15.6" fill="#f23645"/>
<rect x="804.46" y="415.1" width="0.9" height="39.1" fill="#f23645"/>
<rect x="802.91" y="435.4" width="4.0" height="2.6" fill="#f23645"/>
<rect x="810.06" y="436.3" width="0.9" height="16.7" fill="#f23645"/>
<rect x="808.51" y="437.2" width="4.0" height="15.5" fill="#f23645"/>
<rect x="815.67" y="439.8" width="0.9" height="14.4" fill="#089981"/>
<rect x="814.12" y="444.2" width="4.0" height="10.0" fill="#089981"/>
<rect x="821.27" y="435.3" width="0.9" height="13.1" fill="#089981"/>
<rect x="819.72" y="438.1" width="4.0" height="6.8" fill="#089981"/>
<rect x="826.88" y="427.9" width="0.9" height="37.5" fill="#f23645"/>
<rect x="825.33" y="438.1" width="4.0" height="16.8" fill="#f23645"/>
<rect x="832.48" y="448.8" width="0.9" height="36.8" fill="#f23645"/>
<rect x="830.93" y="454.3" width="4.0" height="22.5" fill="#f23645"/>
<rect x="838.09" y="418.1" width="0.9" height="59.1" fill="#089981"/>
<rect x="836.54" y="422.4" width="4.0" height="54.8" fill="#089981"/>
<rect x="843.69" y="420.1" width="0.9" height="23.8" fill="#f23645"/>
<rect x="842.14" y="422.4" width="4.0" height="14.7" fill="#f23645"/>
<rect x="849.30" y="430.2" width="0.9" height="24.1" fill="#f23645"/>
<rect x="847.75" y="441.0" width="4.0" height="4.5" fill="#f23645"/>
<rect x="854.90" y="443.0" width="0.9" height="21.7" fill="#f23645"/>
<rect x="853.35" y="445.1" width="4.0" height="8.6" fill="#f23645"/>
<rect x="860.50" y="442.2" width="0.9" height="22.5" fill="#f23645"/>
<rect x="858.96" y="453.3" width="4.0" height="4.3" fill="#f23645"/>
<rect x="866.11" y="443.0" width="0.9" height="29.9" fill="#089981"/>
<rect x="864.56" y="450.0" width="4.0" height="7.2" fill="#089981"/>
<rect x="871.72" y="421.6" width="0.9" height="31.7" fill="#089981"/>
<rect x="870.17" y="441.0" width="4.0" height="9.8" fill="#089981"/>
<rect x="877.32" y="421.1" width="0.9" height="23.4" fill="#089981"/>
<rect x="875.77" y="426.3" width="4.0" height="14.9" fill="#089981"/>
<rect x="882.93" y="419.5" width="0.9" height="15.2" fill="#089981"/>
<rect x="881.38" y="425.0" width="4.0" height="9.7" fill="#089981"/>
<rect x="888.53" y="423.4" width="0.9" height="18.8" fill="#f23645"/>
<rect x="886.98" y="425.0" width="4.0" height="15.2" fill="#f23645"/>
<rect x="894.13" y="439.6" width="0.9" height="1.4" fill="#f23645"/>
<rect x="892.59" y="439.6" width="4.0" height="1.4" fill="#f23645"/>
</g>
<line x1="10.6" y1="440.5" x2="953.0" y2="440.5" stroke="#f23645" stroke-width="0.9" stroke-opacity="0.7" stroke-dasharray="1 1.27"/>
<g font-size="10.3" fill="#131722" stroke="#131722" stroke-width="0.15">
<text x="961.8" y="38.15" textLength="39.2" lengthAdjust="spacingAndGlyphs">1.18800</text>
<text x="961.8" y="67.95" textLength="39.2" lengthAdjust="spacingAndGlyphs">1.18600</text>
<text x="961.8" y="97.76" textLength="39.2" lengthAdjust="spacingAndGlyphs">1.18400</text>
<text x="961.8" y="127.56" textLength="39.2" lengthAdjust="spacingAndGlyphs">1.18200</text>
<text x="961.8" y="157.37" textLength="39.2" lengthAdjust="spacingAndGlyphs">1.18000</text>
<text x="961.8" y="187.18" textLength="39.2" lengthAdjust="spacingAndGlyphs">1.17800</text>
<text x="961.8" y="216.98" textLength="39.2" lengthAdjust="spacingAndGlyphs">1.17600</text>
<text x="961.8" y="246.78" textLength="39.2" lengthAdjust="spacingAndGlyphs">1.17400</text>
<text x="961.8" y="276.59" textLength="39.2" lengthAdjust="spacingAndGlyphs">1.17200</text>
<text x="961.8" y="306.39" textLength="39.2" lengthAdjust="spacingAndGlyphs">1.17000</text>
<text x="961.8" y="336.20" textLength="39.2" lengthAdjust="spacingAndGlyphs">1.16800</text>
<text x="961.8" y="366.00" textLength="39.2" lengthAdjust="spacingAndGlyphs">1.16600</text>
<text x="961.8" y="395.81" textLength="39.2" lengthAdjust="spacingAndGlyphs">1.16400</text>
<text x="961.8" y="425.61" textLength="39.2" lengthAdjust="spacingAndGlyphs">1.16200</text>
<text x="961.8" y="455.42" textLength="39.2" lengthAdjust="spacingAndGlyphs">1.16000</text>
<text x="961.8" y="485.22" textLength="39.2" lengthAdjust="spacingAndGlyphs">1.15800</text>
<text x="961.8" y="515.03" textLength="39.2" lengthAdjust="spacingAndGlyphs">1.15600</text>
<text x="961.8" y="544.84" textLength="39.2" lengthAdjust="spacingAndGlyphs">1.15400</text>
<text x="961.8" y="574.64" textLength="39.2" lengthAdjust="spacingAndGlyphs">1.15200</text>
<text x="48.23" y="599.8" text-anchor="middle">19</text>
<text x="115.49" y="599.8" text-anchor="middle">23</text>
<text x="182.75" y="599.8" text-anchor="middle">25</text>
<text x="244.41" y="599.8" text-anchor="middle">28</text>
<text x="317.27" y="599.8" text-anchor="middle" font-weight="bold">Oct</text>
<text x="384.53" y="599.8" text-anchor="middle">3</text>
<text x="451.79" y="599.8" text-anchor="middle">7</text>
<text x="519.05" y="599.8" text-anchor="middle">9</text>
<text x="580.71" y="599.8" text-anchor="middle">12</text>
<text x="653.57" y="599.8" text-anchor="middle">15</text>
<text x="720.83" y="599.8" text-anchor="middle">17</text>
<text x="788.09" y="599.8" text-anchor="middle">21</text>
<text x="855.35" y="599.8" text-anchor="middle">23</text>
<text x="917.01" y="599.8" text-anchor="middle">26</text>
</g>
<rect x="953.8" y="432.9" width="56.8" height="28.9" rx="1.5" fill="#f23645"/>
<text x="962.9" y="444.6" font-size="10.3" fill="#fff" textLength="37.6" lengthAdjust="spacingAndGlyphs" stroke="#fff" stroke-width="0.35">1.16071</text>
<text x="962.3" y="457.9" font-size="10.3" fill="#fff" fill-opacity="0.85" stroke="#fff" stroke-opacity="0.85" stroke-width="0.15" textLength="43.3" lengthAdjust="spacingAndGlyphs">03:45:49</text>
<rect x="953.8" y="567.1" width="43.2" height="15.7" rx="1.5" fill="#ef5350"/>
<text x="962.8" y="578.9" font-size="10.3" fill="#fff" textLength="30" lengthAdjust="spacingAndGlyphs" stroke="#fff" stroke-width="0.4">1.12 K</text>
<g font-size="10.5">
<text x="17.5" y="43.7" fill="#131722" stroke="#131722" stroke-width="0.15" textLength="161.3" lengthAdjust="spacingAndGlyphs">Euro / U.S. Dollar · 4h · Tickmill</text>
<text x="186.4" y="43.7" textLength="46.2" lengthAdjust="spacingAndGlyphs"><tspan fill="#131722" stroke="#131722" stroke-width="0.15">O</tspan><tspan fill="#f23645">1.16076</tspan></text>
<text x="240.3" y="43.7" textLength="45.9" lengthAdjust="spacingAndGlyphs"><tspan fill="#131722" stroke="#131722" stroke-width="0.15">H</tspan><tspan fill="#f23645">1.16080</tspan></text>
<text x="293.6" y="43.7" textLength="43.9" lengthAdjust="spacingAndGlyphs"><tspan fill="#131722" stroke="#131722" stroke-width="0.15">L</tspan><tspan fill="#f23645">1.16062</tspan></text>
<text x="345.5" y="43.7" textLength="44.8" lengthAdjust="spacingAndGlyphs"><tspan fill="#131722" stroke="#131722" stroke-width="0.15">C</tspan><tspan fill="#f23645">1.16071</tspan></text>
<text x="398.9" y="43.7" fill="#f23645" textLength="43.1" lengthAdjust="spacingAndGlyphs">−0.00005</text>
<text x="447.4" y="43.7" fill="#f23645" textLength="41.7" lengthAdjust="spacingAndGlyphs">(−0.00%)</text>
<text x="17.5" y="59.7" fill="#131722" stroke="#131722" stroke-width="0.15" textLength="14.8" lengthAdjust="spacingAndGlyphs">Vol</text>
<text x="39.8" y="59.7" fill="#f23645" textLength="29" lengthAdjust="spacingAndGlyphs">1.12 K</text>
</g>
<g>
<circle cx="894.4" cy="547.3" r="9.1" fill="#fff" stroke="#9c27b0" stroke-width="1.5"/>
<path d="M897.2 542.4 L891.0 548.2 L894.6 548.0 L891.6 552.4 L898.0 546.6 L894.5 546.8 Z" fill="#9c27b0"/>
<circle cx="899.8" cy="570.6" r="9.5" fill="#fff" stroke="#f23645" stroke-width="1.4"/>
<circle cx="899.8" cy="570.6" r="7.7" fill="#f23645"/>
<circle cx="905.1999999999999" cy="567.6" r="0.9" fill="#fff"/><circle cx="906.0" cy="570.6" r="0.9" fill="#fff"/><circle cx="905.1999999999999" cy="573.6" r="0.9" fill="#fff"/>
<circle cx="894.3" cy="570.6" r="9.5" fill="#fff" stroke="#f23645" stroke-width="1.4"/>
<circle cx="894.3" cy="570.6" r="7.7" fill="#1a5fc0"/>
<circle cx="894.30" cy="566.00" r="0.85" fill="#e3c552"/>
<circle cx="896.60" cy="566.62" r="0.85" fill="#e3c552"/>
<circle cx="898.28" cy="568.30" r="0.85" fill="#e3c552"/>
<circle cx="898.90" cy="570.60" r="0.85" fill="#e3c552"/>
<circle cx="898.28" cy="572.90" r="0.85" fill="#e3c552"/>
<circle cx="896.60" cy="574.58" r="0.85" fill="#e3c552"/>
<circle cx="894.30" cy="575.20" r="0.85" fill="#e3c552"/>
<circle cx="892.00" cy="574.58" r="0.85" fill="#e3c552"/>
<circle cx="890.32" cy="572.90" r="0.85" fill="#e3c552"/>
<circle cx="889.70" cy="570.60" r="0.85" fill="#e3c552"/>
<circle cx="890.32" cy="568.30" r="0.85" fill="#e3c552"/>
<circle cx="892.00" cy="566.62" r="0.85" fill="#e3c552"/>
<circle cx="933.2" cy="570.6" r="9.5" fill="#fff" stroke="#f23645" stroke-width="1.4"/>
<circle cx="933.2" cy="570.6" r="7.7" fill="#f23645"/>
<circle cx="938.6" cy="567.6" r="0.9" fill="#fff"/><circle cx="939.4000000000001" cy="570.6" r="0.9" fill="#fff"/><circle cx="938.6" cy="573.6" r="0.9" fill="#fff"/>
<circle cx="927.7" cy="570.6" r="9.5" fill="#fff" stroke="#f23645" stroke-width="1.4"/>
<circle cx="927.7" cy="570.6" r="7.7" fill="#1a5fc0"/>
<circle cx="927.70" cy="566.00" r="0.85" fill="#e3c552"/>
<circle cx="930.00" cy="566.62" r="0.85" fill="#e3c552"/>
<circle cx="931.68" cy="568.30" r="0.85" fill="#e3c552"/>
<circle cx="932.30" cy="570.60" r="0.85" fill="#e3c552"/>
<circle cx="931.68" cy="572.90" r="0.85" fill="#e3c552"/>
<circle cx="930.00" cy="574.58" r="0.85" fill="#e3c552"/>
<circle cx="927.70" cy="575.20" r="0.85" fill="#e3c552"/>
<circle cx="925.40" cy="574.58" r="0.85" fill="#e3c552"/>
<circle cx="923.72" cy="572.90" r="0.85" fill="#e3c552"/>
<circle cx="923.10" cy="570.60" r="0.85" fill="#e3c552"/>
<circle cx="923.72" cy="568.30" r="0.85" fill="#e3c552"/>
<circle cx="925.40" cy="566.62" r="0.85" fill="#e3c552"/>
</g>
<g fill="#0f0f0f">
<path d="M11.6 629.6 H22.6 V643 H17.1 V634.8 H11.6 Z"/>
<circle cx="27.7" cy="632.1" r="2.7"/>
<path d="M32.7 629.6 H39.0 L34.1 643 H27.8 Z"/>
<text x="46.1" y="642.7" font-size="18.3" font-weight="bold" textLength="112.1" lengthAdjust="spacingAndGlyphs">TradingView</text>
</g>
</svg></body></html>
